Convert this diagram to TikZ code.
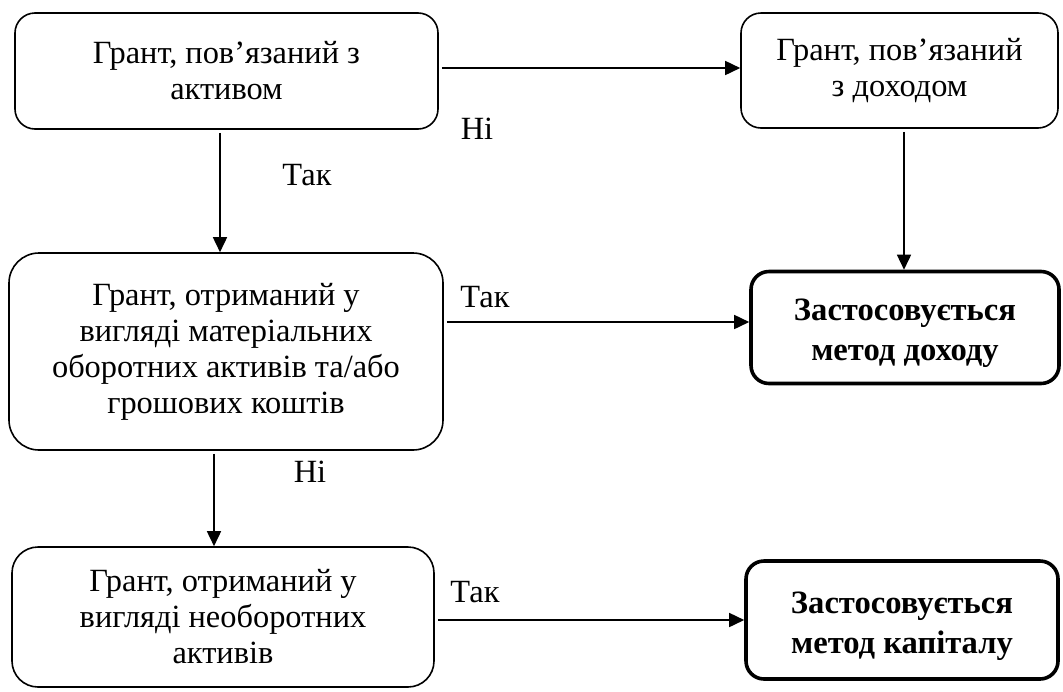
\documentclass[tikz,border=0pt]{standalone}
\usepackage{fontspec}
\setmainfont{Liberation Serif}
\usetikzlibrary{arrows.meta}
\newcommand{\topstrut}{\rule{0pt}{16.8pt}}
\begin{document}
\begin{tikzpicture}[x=0.5pt,y=-0.5pt,
  every node/.style={font=\fontsize{16.2}{18}\selectfont},
  box/.style={draw,line width=0.8pt,rounded corners=10pt,align=center,inner sep=0pt},
  boldbox/.style={draw,line width=1.8pt,rounded corners=9pt,align=center,inner sep=0pt,font=\fontsize{16.3}{20}\selectfont\bfseries},
  arr/.style={line width=0.8pt,-{Triangle[length=7.5pt,width=7pt]},shorten <=1.5pt},
  lbl/.style={inner sep=0pt}]
\useasboundingbox (0,0) rectangle (1063,691);
\node[box,minimum width=211.5pt,minimum height=58pt] (b1) at (226.5,71) {Грант, пов’язаний з\\активом};
\node[box,minimum width=158.5pt,minimum height=57.5pt] (b2) at (899.5,70.5) {Грант, пов’язаний\\з доходом};
\node[box,rounded corners=15pt,minimum width=217pt,minimum height=98.5pt] (b3) at (226,351.5) {Грант, отриманий у\\вигляді матеріальних\\оборотних активів та/або\\грошових коштів};
\node[boldbox,minimum width=154pt,minimum height=56pt] (b4) at (905,327.5) {\topstrut Застосовується\\метод доходу};
\node[box,rounded corners=13pt,minimum width=211pt,minimum height=70pt] (b5) at (223,617) {Грант, отриманий у\\вигляді необоротних\\активів};
\node[boldbox,minimum width=156pt,minimum height=59pt] (b6) at (902,620) {\topstrut Застосовується\\метод капіталу};
\coordinate (v1) at (220,0);
\coordinate (v2) at (904,0);
\coordinate (v3) at (214,0);
\coordinate (h1) at (0,68);
\coordinate (h2) at (0,322);
\coordinate (h3) at (0,620);
\draw[arr] (b1.south -| v1) -- (b3.north -| v1);
\draw[arr] (b1.east |- h1) -- (b2.west |- h1);
\draw[arr] (b2.south -| v2) -- (b4.north -| v2);
\draw[arr] (b3.east |- h2) -- (b4.west |- h2);
\draw[arr] (b3.south -| v3) -- (b5.north -| v3);
\draw[arr] (b5.east |- h3) -- (b6.west |- h3);
\node[lbl] (l1) at (307,175) {Так};
\node[lbl] (l2) at (477,129) {Ні};
\node[lbl] (l3) at (485,297) {Так};
\node[lbl] (l4) at (310,472) {Ні};
\node[lbl] (l5) at (475,592) {Так};
\end{tikzpicture}
\end{document}
